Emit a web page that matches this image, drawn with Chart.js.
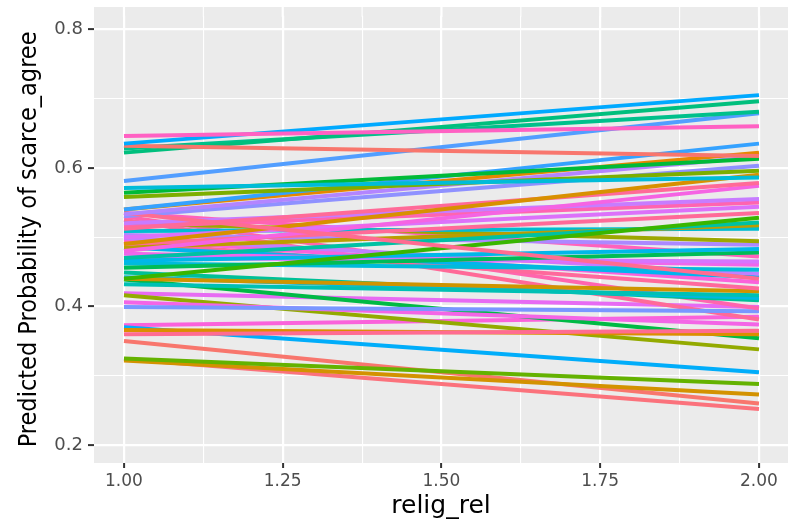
<!DOCTYPE html>
<html>
<head>
<meta charset="utf-8">
<script src="https://cdn.jsdelivr.net/npm/chart.js@4"></script>
<style>
  html, body { margin: 0; padding: 0; background: #fff; }
  #wrap { width: 788px; height: 521px; }
</style>
</head>
<body>
<div id="wrap"><canvas id="probChart" width="788" height="521"></canvas></div>
<script>
// relig_rel endpoints
const xValues = [1, 2];
const xTicks = [1, 1.25, 1.5, 1.75, 2];
const yTicks = [0.2, 0.4, 0.6, 0.8];

// predicted probability at relig_rel = 1 and relig_rel = 2, one entry per group
const predAt1 = [
  0.646, 0.635, 0.632, 0.622, 0.628, 0.581, 0.571, 0.564, 0.558, 0.540,
  0.533, 0.540, 0.535, 0.530, 0.490, 0.512, 0.480, 0.520, 0.515, 0.500,
  0.490, 0.440, 0.470, 0.485, 0.509, 0.520, 0.503, 0.466, 0.456, 0.535,
  0.470, 0.476, 0.462, 0.499, 0.485, 0.497, 0.492, 0.440, 0.432, 0.442,
  0.449, 0.530, 0.399, 0.525, 0.406, 0.360, 0.366, 0.439, 0.416, 0.370,
  0.325, 0.322, 0.350, 0.324, 0.419, 0.373
];
const predAt2 = [
  0.660, 0.705, 0.617, 0.696, 0.681, 0.679, 0.586, 0.613, 0.596, 0.635,
  0.616, 0.622, 0.440, 0.603, 0.590, 0.578, 0.574, 0.555, 0.550, 0.544,
  0.535, 0.528, 0.521, 0.517, 0.512, 0.494, 0.489, 0.483, 0.478, 0.472,
  0.465, 0.460, 0.453, 0.447, 0.442, 0.435, 0.426, 0.422, 0.416, 0.412,
  0.409, 0.397, 0.393, 0.381, 0.374, 0.365, 0.360, 0.354, 0.338, 0.305,
  0.288, 0.273, 0.260, 0.252, 0.399, 0.385
];
const lineColors = [
  '#FF61C3', '#00A9FF', '#F8766D', '#00BF7D', '#00C08B', '#529EFF', '#00BCD8', '#00BA38', '#7CAE00', '#35A2FF',
  '#B385FF', '#E58700', '#FF6C91', '#8F91FF', '#D89000', '#FF6A98', '#F564E3', '#C77CFF', '#FF64B0', '#DC71FA',
  '#FF6A98', '#39B600', '#00C1A3', '#BB9D00', '#00BDD0', '#9DA700', '#AC88FF', '#00B7E9', '#00BC56', '#FF62BC',
  '#D575FE', '#EF67EB', '#00BBDB', '#C17FFF', '#00B4EF', '#FA62DB', '#FF699C', '#CF9400', '#00C0B4', '#00B9E3',
  '#00C097', '#FF65AE', '#7997FF', '#FF6A98', '#F365E6', '#FF6C91', '#DB8E00', '#00BA45', '#93AA00', '#00ADFA',
  '#64B200', '#D39200', '#F8766D', '#FB727C', '#E76BF3', '#FA62DB'
];

const datasets = predAt1.map((start, i) => {
  return {
    data: [{ x: xValues[0], y: start }, { x: xValues[1], y: predAt2[i] }],
    borderColor: lineColors[i],
    borderWidth: 4,
    pointRadius: 0,
    tension: 0,
    fill: false,
  };
});

// grey panel; starts a bit above the chart area like the ggplot panel does
const panelBackground = {
  id: 'panelBackground',
  beforeDraw(chart) {
    const { ctx, chartArea } = chart;
    const top = 7;
    ctx.save();
    ctx.fillStyle = '#EBEBEB';
    ctx.fillRect(chartArea.left, top, chartArea.right - chartArea.left, chartArea.bottom - top);
    // carry the vertical grid lines up into that strip
    const xScale = chart.scales.x;
    ctx.strokeStyle = '#FFFFFF';
    xScale.ticks.forEach((tick) => {
      const px = xScale.getPixelForValue(tick.value);
      ctx.lineWidth = tick.major ? 2.2 : 1.1;
      ctx.beginPath();
      ctx.moveTo(px, top);
      ctx.lineTo(px, chartArea.top + 1);
      ctx.stroke();
    });
    ctx.restore();
  },
};

// major ticks get labels, minor ones only a thin grid line
const withMinor = (major) => {
  const out = [];
  for (let i = 0; i < major.length; i++) {
    out.push({ value: major[i], major: true });
    if (i < major.length - 1) out.push({ value: (major[i] + major[i + 1]) / 2, major: false });
  }
  return out;
};

const isMajor = (ctx) => ctx.tick && ctx.tick.major;
const tickFont = { family: "'DejaVu Sans', 'Liberation Sans'", size: 17 };

new Chart(document.getElementById('probChart'), {
  type: 'line',
  data: { datasets },
  plugins: [panelBackground],
  options: {
    responsive: false,
    animation: false,
    layout: { padding: { top: 0, right: 0, left: 0, bottom: 0 } },
    plugins: { legend: { display: false }, tooltip: { enabled: false } },
    scales: {
      x: {
        type: 'linear',
        min: 0.9528,
        max: 2.0457,
        afterBuildTicks: (scale) => { scale.ticks = withMinor(xTicks); },
        afterFit: (scale) => { scale.height = 58; },
        border: { display: false },
        grid: {
          color: '#FFFFFF',
          lineWidth: (ctx) => (isMajor(ctx) ? 2.2 : 1.1),
          drawTicks: true,
          tickLength: 5,
          tickColor: (ctx) => (isMajor(ctx) ? '#333333' : 'rgba(0,0,0,0)'),
          tickWidth: 2,
        },
        ticks: {
          color: '#4D4D4D',
          font: tickFont,
          padding: 3,
          maxRotation: 0,
          autoSkip: false,
          callback: (value, index, ticks) => (ticks[index].major ? value.toFixed(2) : ''),
        },
        title: {
          display: true,
          text: 'relig_rel',
          color: '#000000',
          font: { family: "'DejaVu Sans', 'Liberation Sans'", size: 25 },
          padding: { top: 0, bottom: 0 },
        },
      },
      y: {
        type: 'linear',
        min: 0.174,
        max: 0.8195,
        afterBuildTicks: (scale) => { scale.ticks = withMinor(yTicks); },
        afterFit: (scale) => { scale.width = 94; },
        border: { display: false },
        grid: {
          color: '#FFFFFF',
          lineWidth: (ctx) => (isMajor(ctx) ? 2.2 : 1.1),
          drawTicks: true,
          tickLength: 6,
          tickColor: (ctx) => (isMajor(ctx) ? '#333333' : 'rgba(0,0,0,0)'),
          tickWidth: 2,
        },
        ticks: {
          color: '#4D4D4D',
          font: { family: "'DejaVu Sans', 'Liberation Sans'", size: 18 },
          padding: 5,
          autoSkip: false,
          callback: (value, index, ticks) => (ticks[index].major ? value.toFixed(1) : ''),
        },
        title: {
          display: true,
          text: 'Predicted Probability of scarce_agree',
          color: '#000000',
          font: { family: "'DejaVu Sans Condensed', 'Liberation Sans'", size: 25 },
          padding: { top: 14, bottom: 0 },
        },
      },
    },
  },
});
</script>
</body>
</html>
